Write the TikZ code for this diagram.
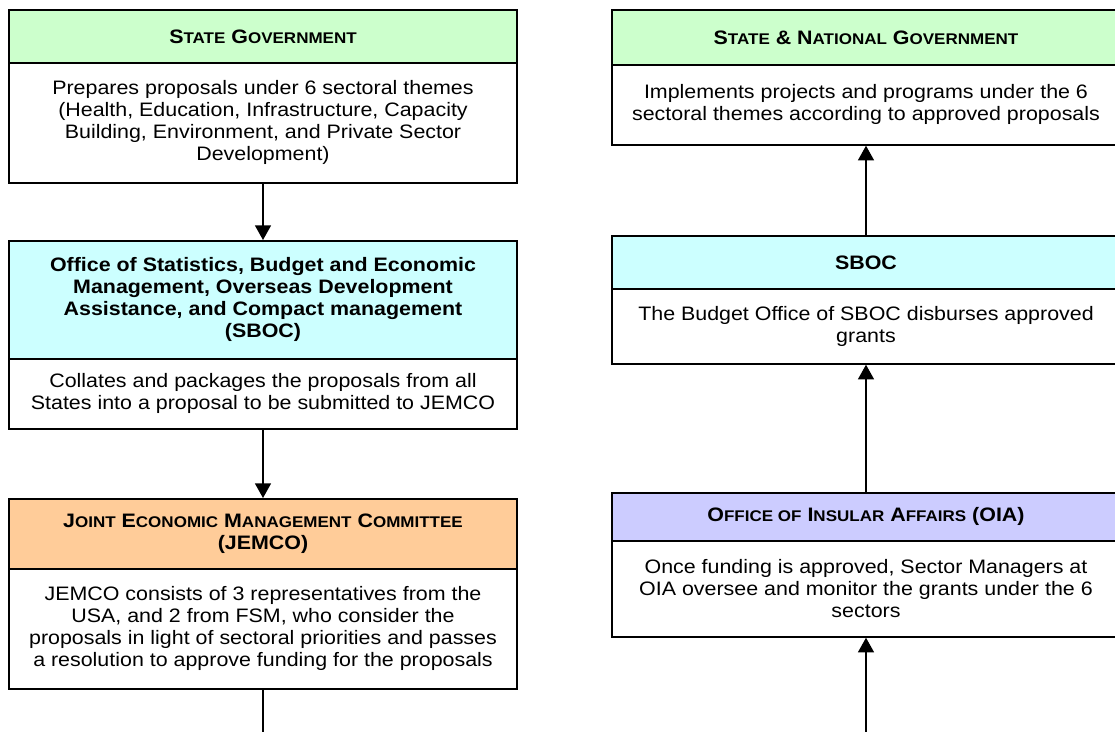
\documentclass[tikz,border=0pt]{standalone}
\usepackage{fontspec}
\setmainfont[FakeStretch=1.1]{Liberation Sans}
\usetikzlibrary{arrows.meta}
\definecolor{hgreen}{HTML}{CCFFCC}
\definecolor{hcyan}{HTML}{CCFFFF}
\definecolor{horange}{HTML}{FFCC99}
\definecolor{hblue}{HTML}{CCCCFF}
\newcommand{\SC}[1]{{\fontsize{11.6pt}{14pt}\selectfont #1}}
\begin{document}
\begin{tikzpicture}[x=0.75pt,y=-0.75pt,
  boxpart/.style={draw=black, line width=1.3pt, minimum width=381pt, inner sep=0pt, align=center, anchor=north,
    font=\fontsize{14.6pt}{16.5pt}\selectfont},
  headpart/.style={boxpart, font=\fontsize{14.6pt}{16.5pt}\selectfont\bfseries},
  flow/.style={line width=1.1pt, -{Triangle[length=11pt,width=12pt]}},
  plain/.style={line width=1.1pt}]
\useasboundingbox (0,0) rectangle (1115,732);
% left column
\node[headpart, fill=hgreen, minimum height=39.75pt] (sgh) at (263,9) {S\SC{TATE} G\SC{OVERNMENT}};
\node[boxpart, minimum height=90pt] (sgb) at (263,62) {Prepares proposals under 6 sectoral themes\\(Health, Education, Infrastructure, Capacity\\Building, Environment, and Private Sector\\Development)};
\node[headpart, fill=hcyan, minimum height=88.5pt] (sbh) at (263,240) {Office of Statistics, Budget and Economic\\Management, Overseas Development\\Assistance, and Compact management\\(SBOC)};
\node[boxpart, minimum height=52.5pt] (sbb) at (263,358) {Collates and packages the proposals from all\\States into a proposal to be submitted to JEMCO};
\node[headpart, fill=horange, minimum height=52.5pt] (jmh) at (263,498) {J\SC{OINT} E\SC{CONOMIC} M\SC{ANAGEMENT} C\SC{OMMITTEE}\\(JEMCO)};
\node[boxpart, minimum height=90pt] (jmb) at (263,568) {JEMCO consists of 3 representatives from the\\USA, and 2 from FSM, who consider the\\proposals in light of sectoral priorities and passes\\a resolution to approve funding for the proposals};
\coordinate (lend) at (263,745);
% right column
\node[headpart, fill=hgreen, minimum height=41.25pt] (nsh) at (866,9) {S\SC{TATE} \& N\SC{ATIONAL} G\SC{OVERNMENT}};
\node[boxpart, minimum height=60pt] (nsb) at (866,64) {Implements projects and programs under the 6\\sectoral themes according to approved proposals};
\node[headpart, fill=hcyan, minimum height=39.75pt] (rsh) at (866,235) {SBOC};
\node[boxpart, minimum height=56.25pt] (rsb) at (866,288) {The Budget Office of SBOC disburses approved\\grants};
\node[headpart, fill=hblue, minimum height=36pt] (oih) at (866,492) {O\SC{FFICE OF} I\SC{NSULAR} A\SC{FFAIRS} (OIA)};
\node[boxpart, minimum height=72pt] (oib) at (866,540) {Once funding is approved, Sector Managers at\\OIA oversee and monitor the grants under the 6\\sectors};
\coordinate (rstart) at (866,745);
% connectors
\draw[flow] (sgb.south) -- (sbh.north);
\draw[flow] (sbb.south) -- (jmh.north);
\draw[plain] (jmb.south) -- (lend);
\draw[flow] (rsh.north) -- (nsb.south);
\draw[flow] (oih.north) -- (rsb.south);
\draw[flow] (rstart) -- (oib.south);
\end{tikzpicture}
\end{document}
